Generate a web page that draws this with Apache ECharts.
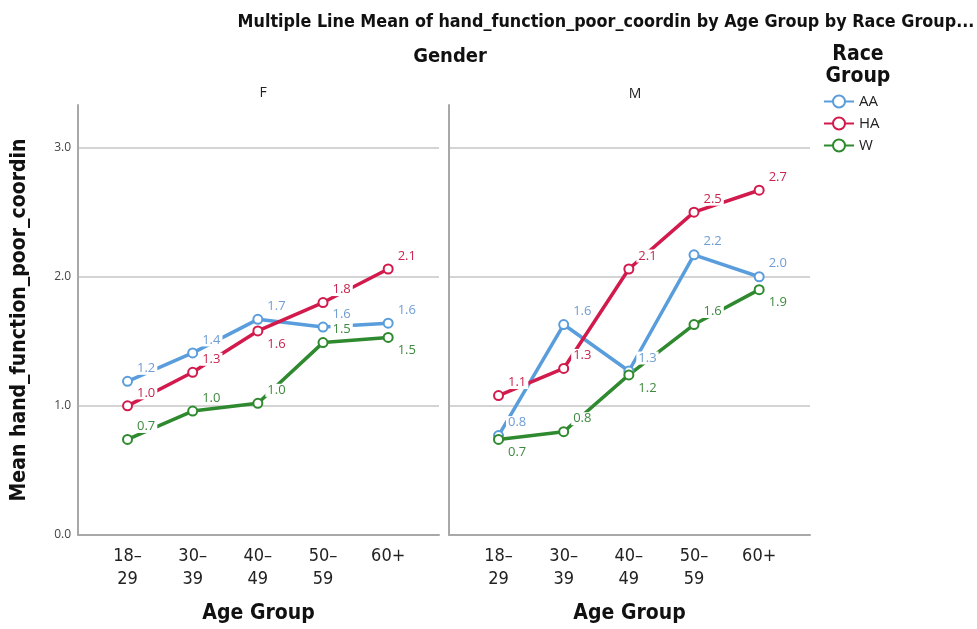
<!DOCTYPE html>
<html>
<head>
<meta charset="utf-8">
<script src="https://cdn.jsdelivr.net/npm/echarts@6/dist/echarts.min.js"></script>
<style>
  html, body { margin: 0; padding: 0; background: #fff; }
  #chart { width: 977px; height: 629px; }
</style>
</head>
<body>
<div id="chart"></div>
<script>
// categories
const ageGroups = ['18–29', '30–39', '40–49', '50–59', '60+'];
const raceGroups = ['AA', 'HA', 'W'];
const yTicks = [0, 1, 2, 3];

// means, panel F
const femaleAA = [1.19, 1.41, 1.67, 1.61, 1.64];
const femaleHA = [1.00, 1.26, 1.58, 1.80, 2.06];
const femaleW = [0.74, 0.96, 1.02, 1.49, 1.53];
// panel M
const maleAA = [0.77, 1.63, 1.27, 2.17, 2.00];
const maleHA = [1.08, 1.29, 2.06, 2.50, 2.67];
const maleW = [0.74, 0.80, 1.24, 1.63, 1.90];

// which point labels sit below the point instead of above
const belowF = { AA: [], HA: [2], W: [4] };
const belowM = { AA: [], HA: [], W: [0, 2, 4] };

const lineColors = { AA: '#5a9ddc', HA: '#d21a4c', W: '#2f8a2f' };
const textColors = { AA: '#6f9dd3', HA: '#c8264f', W: '#3f8a3f' };

const font = "'Open Sans', 'DejaVu Sans', sans-serif";
const narrow = "'DejaVu Sans Condensed', 'Liberation Sans', sans-serif";

function makeSeries(name, values, gridIdx, below) {
  return {
    name: name,
    type: 'line',
    xAxisIndex: gridIdx,
    yAxisIndex: gridIdx,
    symbol: 'emptyCircle',
    symbolSize: 9,
    color: lineColors[name],
    lineStyle: { width: 3.5, color: lineColors[name] },
    itemStyle: { color: lineColors[name], borderWidth: 1.3 },
    z: 3,
    data: values.map((v, i) => ({
      value: [i, v],
      label: {
        show: true,
        position: 'right',
        distance: 2,
        offset: [0, below.includes(i) ? 13 : -13],
        formatter: p => p.value[1].toFixed(1),
        color: textColors[name],
        fontFamily: font,
        fontSize: 13,
        backgroundColor: '#fff',
        padding: [0, 2]
      }
    }))
  };
}

function xAxisFor(gridIdx) {
  return {
    type: 'value',
    gridIndex: gridIdx,
    min: -0.76,
    max: 4.78,
    name: 'Age Group',
    nameLocation: 'middle',
    nameGap: 68,
    nameTextStyle: { fontFamily: narrow, fontWeight: 'bold', fontSize: 21, color: '#111' },
    axisLine: { show: true, onZero: false, lineStyle: { color: '#a8a8a8', width: 2 } },
    axisTick: { show: false },
    splitLine: { show: false },
    axisLabel: {
      customValues: [0, 1, 2, 3, 4],
      formatter: v => ageGroups[v].replace('–', '–\n'),
      fontFamily: narrow,
      fontSize: 18,
      lineHeight: 23,
      color: '#222',
      margin: 10
    }
  };
}

function yAxisFor(gridIdx) {
  return {
    type: 'value',
    gridIndex: gridIdx,
    min: 0,
    max: 3.33,
    interval: 1,
    name: gridIdx === 0 ? 'Mean hand_function_poor_coordin' : '',
    nameLocation: 'middle',
    nameGap: 48,
    nameTextStyle: { fontFamily: narrow, fontWeight: 'bold', fontSize: 21, color: '#111' },
    axisLine: { show: true, onZero: false, lineStyle: { color: '#a8a8a8', width: 2 } },
    axisTick: { show: false },
    axisLabel: {
      show: gridIdx === 0,
      customValues: yTicks,
      formatter: v => v.toFixed(1),
      fontFamily: font,
      fontSize: 12,
      color: '#444',
      margin: 7
    },
    splitLine: {
      show: true,
      lineStyle: { color: ['#d4d4d4', '#d4d4d4', '#d4d4d4', '#d4d4d4', 'rgba(0,0,0,0)'], width: 2 }
    }
  };
}

const chart = echarts.init(document.getElementById('chart'));

chart.setOption({
  backgroundColor: '#fff',
  animation: false,
  title: [
    {
      text: 'Multiple Line Mean of hand_function_poor_coordin by Age Group by Race Group...',
      left: 601, top: 8, textAlign: 'center',
      textStyle: { fontFamily: narrow, fontWeight: 'bold', fontSize: 17.8, color: '#111' }
    },
    {
      text: 'Gender', left: 445, top: 42, textAlign: 'center',
      textStyle: { fontFamily: narrow, fontWeight: 'bold', fontSize: 20, color: '#111' }
    },
    {
      text: 'F', left: 258, top: 81, textAlign: 'center',
      textStyle: { fontFamily: font, fontWeight: 'normal', fontSize: 14, color: '#222' }
    },
    {
      text: 'M', left: 630, top: 82, textAlign: 'center',
      textStyle: { fontFamily: font, fontWeight: 'normal', fontSize: 14, color: '#222' }
    },
    {
      text: 'Race\nGroup', left: 853, top: 39, textAlign: 'center',
      textStyle: { fontFamily: narrow, fontWeight: 'bold', fontSize: 21, lineHeight: 22, color: '#111' }
    }
  ],
  legend: {
    data: raceGroups,
    orient: 'vertical',
    left: 818,
    top: 89,
    itemGap: 7,
    itemWidth: 30,
    itemHeight: 15,
    textStyle: { fontFamily: font, fontSize: 15, color: '#222' }
  },
  grid: [
    { left: 78, top: 105, width: 361, height: 430 },
    { left: 449, top: 105, width: 361, height: 430 }
  ],
  xAxis: [xAxisFor(0), xAxisFor(1)],
  yAxis: [yAxisFor(0), yAxisFor(1)],
  series: [
    makeSeries('AA', femaleAA, 0, belowF.AA),
    makeSeries('HA', femaleHA, 0, belowF.HA),
    makeSeries('W', femaleW, 0, belowF.W),
    makeSeries('AA', maleAA, 1, belowM.AA),
    makeSeries('HA', maleHA, 1, belowM.HA),
    makeSeries('W', maleW, 1, belowM.W)
  ]
});
</script>
</body>
</html>
